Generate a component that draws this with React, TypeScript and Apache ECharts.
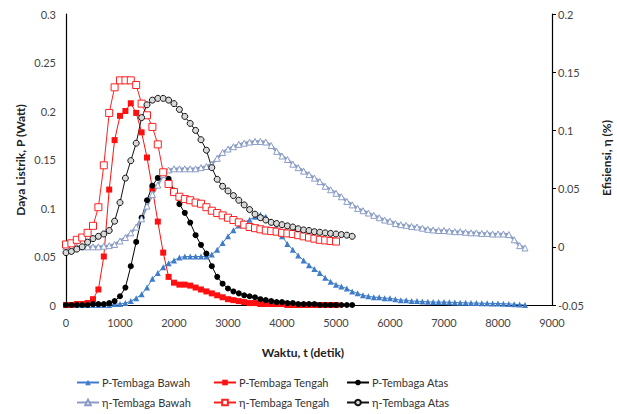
import React, { useEffect, useRef } from "react";
import * as echarts from "echarts";

const STEP = 100; // detik antar titik

const pBawah = [
  0, 0, 0, 0, 0, 0, 0, 0, 0, 0.001,
  0.001, 0.002, 0.004, 0.007, 0.011, 0.018, 0.027, 0.033, 0.039, 0.043,
  0.046, 0.049, 0.05, 0.05, 0.05, 0.05, 0.05, 0.052, 0.057, 0.064,
  0.071, 0.077, 0.082, 0.085, 0.088, 0.091, 0.093, 0.091, 0.086, 0.079,
  0.071, 0.063, 0.057, 0.051, 0.046, 0.041, 0.037, 0.033, 0.028, 0.024,
  0.021, 0.019, 0.017, 0.014, 0.012, 0.01, 0.009, 0.008, 0.008, 0.007,
  0.007, 0.006, 0.005, 0.005, 0.004, 0.004, 0.0035, 0.0033, 0.003, 0.003,
  0.003, 0.0028, 0.0026, 0.0024, 0.0022, 0.002, 0.002, 0.0018, 0.0017, 0.0016,
  0.0015, 0.0013, 0.0011, 0.0008, 0.0004, 0,
];

const pTengah = [
  0, 0, 0.001, 0.001, 0.002, 0.006, 0.016, 0.05, 0.119, 0.17,
  0.195, 0.2, 0.208, 0.198, 0.178, 0.152, 0.12, 0.086, 0.054, 0.029,
  0.023, 0.021, 0.021, 0.02, 0.018, 0.016, 0.014, 0.012, 0.01, 0.008,
  0.006, 0.005, 0.004, 0.003, 0.002, 0.002, 0.001, 0.001, 0.001, 0.001,
  0.001, 0, 0, 0, 0, 0, 0, 0, 0, 0,
  0,
];

const pAtas = [
  0, 0, 0, 0, 0, 0.001, 0.001, 0.001, 0.002, 0.004,
  0.009, 0.018, 0.04, 0.065, 0.09, 0.108, 0.123, 0.131, 0.135, 0.13,
  0.118, 0.104, 0.095, 0.085, 0.072, 0.062, 0.053, 0.04, 0.029, 0.022,
  0.017, 0.014, 0.012, 0.01, 0.009, 0.008, 0.006, 0.005, 0.004, 0.003,
  0.003, 0.002, 0.002, 0.001, 0.001, 0.001, 0.001, 0, 0, 0,
  0, 0, 0, 0,
];

const etaBawah = [
  0, 0, 0, 0, 0, 0, 0, 0.0005, 0.001, 0.002,
  0.005, 0.008, 0.012, 0.017, 0.024, 0.035, 0.045, 0.053, 0.062, 0.066,
  0.067, 0.067, 0.067, 0.067, 0.067, 0.068, 0.069, 0.071, 0.076, 0.081,
  0.084, 0.086, 0.088, 0.089, 0.09, 0.0905, 0.0905, 0.09, 0.087, 0.082,
  0.078, 0.075, 0.071, 0.068, 0.065, 0.062, 0.059, 0.056, 0.052, 0.049,
  0.046, 0.043, 0.039, 0.036, 0.033, 0.031, 0.029, 0.027, 0.025, 0.023,
  0.022, 0.02, 0.019, 0.0185, 0.0175, 0.017, 0.016, 0.015, 0.0145, 0.014,
  0.014, 0.0135, 0.013, 0.013, 0.0125, 0.012, 0.012, 0.0115, 0.0115, 0.011,
  0.011, 0.011, 0.0105, 0.006, 0.001, -0.001,
];

const etaTengah = [
  0.002, 0.003, 0.006, 0.008, 0.012, 0.018, 0.034, 0.07, 0.115, 0.137,
  0.143, 0.143, 0.143, 0.139, 0.123, 0.113, 0.103, 0.088, 0.064, 0.054,
  0.047, 0.043, 0.041, 0.04, 0.038, 0.037, 0.034, 0.031, 0.029, 0.027,
  0.025, 0.023, 0.021, 0.019, 0.017, 0.016, 0.015, 0.014, 0.0135, 0.013,
  0.012, 0.0115, 0.011, 0.01, 0.009, 0.008, 0.007, 0.006, 0.0055, 0.005,
  0.0045,
];

const etaAtas = [
  -0.005, -0.004, -0.002, 0.0, 0.004, 0.007, 0.009, 0.011, 0.014, 0.022,
  0.038, 0.059, 0.074, 0.089, 0.111, 0.122, 0.126, 0.1275, 0.1275, 0.126,
  0.123, 0.118, 0.112, 0.106, 0.1, 0.092, 0.083, 0.068, 0.058, 0.052,
  0.048, 0.044, 0.04, 0.036, 0.032, 0.028, 0.025, 0.023, 0.021, 0.02,
  0.019, 0.018, 0.017, 0.0155, 0.0145, 0.014, 0.013, 0.0125, 0.012, 0.0115,
  0.011, 0.0105, 0.01, 0.009,
];

const leftTicks = ["0", "0.05", "0.1", "0.15", "0.2", "0.25", "0.3"];

const FONT = "Lato";

const toXY = (arr: number[]) => arr.map((v, i) => [i * STEP, v]);

export default function App() {
  const ref = useRef<HTMLDivElement>(null);
  useEffect(() => {
    if (!ref.current) return;
    const chart = echarts.init(ref.current, undefined, { renderer: "svg" });
    const fmt = (v: number) => String(parseFloat(v.toFixed(3)));
    const legendPos = [
      { name: "P-Tembaga Bawah", left: 76, top: 377 },
      { name: "P-Tembaga Tengah", left: 213, top: 377 },
      { name: "P-Tembaga Atas", left: 346, top: 377 },
      { name: "η-Tembaga Bawah", left: 76, top: 397 },
      { name: "η-Tembaga Tengah", left: 213, top: 397 },
      { name: "η-Tembaga Atas", left: 346, top: 397 },
    ];
    chart.setOption({
      animation: false,
      backgroundColor: "#fff",
      textStyle: { fontFamily: FONT },
      grid: { left: 66, right: 65, top: 14, bottom: 109, containLabel: false },
      legend: legendPos.map((l) => ({
        data: [l.name],
        left: l.left,
        top: l.top,
        itemWidth: 22,
        itemHeight: 7,
        itemGap: 4,
        padding: 0,
        textStyle: { fontFamily: FONT, fontSize: 11, color: "#333", padding: [0, 0, 0, -2] },
      })),
      xAxis: {
        type: "value",
        min: 0,
        max: 9000,
        interval: 1000,
        axisLine: { lineStyle: { color: "#000", width: 1.2 } },
        axisTick: { show: false },
        splitLine: { show: false },
        axisLabel: {
          color: "#444",
          fontSize: 11,
          margin: 12,
          fontFamily: FONT,
          formatter: (v: number) => String(Math.round(v)),
        },
      },
      yAxis: [
        {
          type: "value",
          min: 0,
          max: 0.3,
          interval: 0.05,
          axisLine: { show: true, lineStyle: { color: "#000", width: 1.2 } },
          axisTick: { show: false },
          splitLine: { show: false },
          axisLabel: {
            color: "#444",
            fontSize: 11,
            margin: 10,
            fontFamily: FONT,
            formatter: (v: number) => leftTicks[Math.round(v / 0.05)] ?? fmt(v),
          },
        },
        {
          type: "value",
          min: -0.05,
          max: 0.2,
          interval: 0.05,
          position: "right",
          axisLine: { show: true, lineStyle: { color: "#000", width: 1.2 } },
          axisTick: { show: true, inside: false, length: 4, lineStyle: { color: "#000" } },
          splitLine: { show: false },
          axisLabel: { color: "#444", fontSize: 11, margin: 6, fontFamily: FONT, formatter: fmt },
        },
      ],
      graphic: [
        {
          type: "text",
          x: 20,
          y: 160,
          rotation: Math.PI / 2,
          style: {
            text: "Daya Listrik, P (Watt)",
            font: `bold 12px ${FONT}`,
            fill: "#222",
            align: "center",
            verticalAlign: "middle",
          },
        },
        {
          type: "text",
          x: 606,
          y: 158,
          rotation: Math.PI / 2,
          style: {
            text: "Efisiensi, η (%)",
            font: `bold 12px ${FONT}`,
            fill: "#222",
            align: "center",
            verticalAlign: "middle",
          },
        },
        {
          type: "text",
          x: 303,
          y: 352,
          style: {
            text: "Waktu, t (detik)",
            font: `bold 12px ${FONT}`,
            fill: "#222",
            align: "center",
            verticalAlign: "middle",
          },
        },
      ],
      series: [
        {
          name: "P-Tembaga Bawah",
          type: "line",
          yAxisIndex: 0,
          data: toXY(pBawah),
          symbol: "triangle",
          symbolSize: 6,
          lineStyle: { color: "#3F7DCB", width: 1 },
          itemStyle: { color: "#3F7DCB" },
        },
        {
          name: "P-Tembaga Tengah",
          type: "line",
          yAxisIndex: 0,
          data: toXY(pTengah),
          symbol: "rect",
          symbolSize: 6,
          lineStyle: { color: "#FF1010", width: 1 },
          itemStyle: { color: "#FF1010" },
        },
        {
          name: "P-Tembaga Atas",
          type: "line",
          yAxisIndex: 0,
          data: toXY(pAtas),
          symbol: "circle",
          symbolSize: 6,
          lineStyle: { color: "#000", width: 1 },
          itemStyle: { color: "#000" },
        },
        {
          name: "η-Tembaga Bawah",
          type: "line",
          yAxisIndex: 1,
          data: toXY(etaBawah),
          symbol: "triangle",
          symbolSize: 6,
          lineStyle: { color: "#8A9CC6", width: 2.5 },
          itemStyle: { color: "#fff", borderColor: "#8A9CC6", borderWidth: 1 },
        },
        {
          name: "η-Tembaga Tengah",
          type: "line",
          yAxisIndex: 1,
          data: toXY(etaTengah),
          symbol: "rect",
          symbolSize: 7,
          lineStyle: { color: "#FF2020", width: 1 },
          itemStyle: { color: "#fff", borderColor: "#FF2020", borderWidth: 1 },
        },
        {
          name: "η-Tembaga Atas",
          type: "line",
          yAxisIndex: 1,
          data: toXY(etaAtas),
          symbol: "circle",
          symbolSize: 6,
          lineStyle: { color: "#111", width: 1 },
          itemStyle: { color: "#d9d9d9", borderColor: "#111", borderWidth: 1 },
        },
      ],
    });
    return () => chart.dispose();
  }, []);
  return (
    <div
      ref={ref}
      style={{ position: "fixed", left: 0, top: 0, width: 617, height: 414 }}
    />
  );
}
